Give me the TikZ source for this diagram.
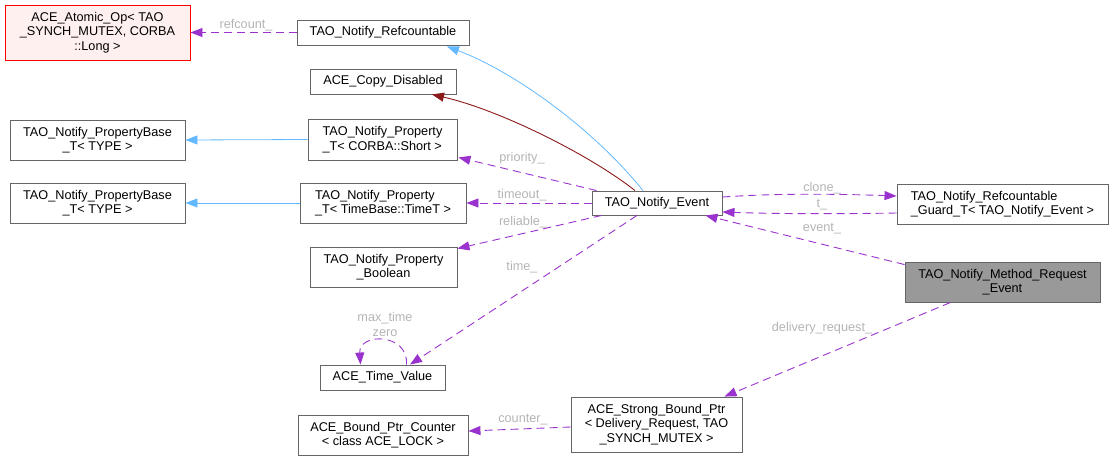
\documentclass[tikz,border=0pt]{standalone}
\usepackage{fontspec}
\setmainfont{Liberation Sans}
\usetikzlibrary{arrows.meta,calc}
\definecolor{edgepurple}{HTML}{9A32CD}
\definecolor{inhblue}{HTML}{63B8FF}
\definecolor{usered}{HTML}{8B1A1A}
\definecolor{boxgray}{HTML}{666666}
\definecolor{labgray}{HTML}{B4B4B4}
\definecolor{curfill}{HTML}{999999}
\definecolor{extfill}{HTML}{FFF0F0}
\definecolor{extred}{HTML}{FF0000}
\begin{document}
\begin{tikzpicture}[x=1pt,y=-1pt,
  box/.style={draw=boxgray,line width=0.9pt,fill=white,inner sep=0pt,align=center,
    font=\fontsize{12.7}{14.5}\selectfont},
  lab/.style={text=labgray,inner sep=0pt,font=\fontsize{12.7}{14}\selectfont},
  uses/.style={draw=edgepurple,line width=0.9pt,dash pattern=on 8pt off 5pt,
    -{Triangle[length=12pt,width=9pt]}},
  inh/.style={draw=inhblue,line width=0.8pt,-{Triangle[length=12pt,width=9pt]}},
  priv/.style={draw=usered,line width=0.9pt,-{Triangle[length=12pt,width=9pt]}}]
\useasboundingbox (0,0) rectangle (1113,461);

% nodes
\node[box,draw=extred,fill=extfill,minimum width=185pt,minimum height=55pt] (atomic) at (97.5,32.5)
  {ACE\_Atomic\_Op< TAO\\\_SYNCH\_MUTEX, CORBA\\::Long >};
\node[box,minimum width=172pt,minimum height=25pt] (refc) at (383,32.5) {TAO\_Notify\_Refcountable};
\node[box,minimum width=146pt,minimum height=25pt] (copy) at (383,81.5) {ACE\_Copy\_Disabled};
\node[box,minimum width=175pt,minimum height=40pt] (pbA) at (97.5,140) {TAO\_Notify\_PropertyBase\\\_T< TYPE >};
\node[box,align=left,minimum width=149pt,minimum height=41pt] (pshort) at (382.5,139.5) {TAO\_Notify\_Property\\\_T< CORBA::Short >};
\node[box,minimum width=175pt,minimum height=40pt] (pbB) at (97.5,203) {TAO\_Notify\_PropertyBase\\\_T< TYPE >};
\node[box,align=left,minimum width=166pt,minimum height=40pt] (ptime) at (383,203) {TAO\_Notify\_Property\\\_T< TimeBase::TimeT >};
\node[box,minimum width=147pt,minimum height=40pt] (pbool) at (383.5,267) {TAO\_Notify\_Property\\\_Boolean};
\node[box,minimum width=125pt,minimum height=25pt] (tv) at (382.5,377.5) {ACE\_Time\_Value};
\node[box,minimum width=170pt,minimum height=40pt] (bpc) at (383,435) {ACE\_Bound\_Ptr\_Counter\\< class ACE\_LOCK >};
\node[box,minimum width=171pt,minimum height=55pt] (sbp) at (656.5,424.5) {ACE\_Strong\_Bound\_Ptr\\< Delivery\_Request, TAO\\\_SYNCH\_MUTEX >};
\node[box,minimum width=130pt,minimum height=24pt] (ev) at (657,203) {TAO\_Notify\_Event};
\node[box,align=left,minimum width=211pt,minimum height=40pt] (guard) at (1002.5,204) {TAO\_Notify\_Refcountable\\\_Guard\_T< TAO\_Notify\_Event >};
\node[box,fill=curfill,minimum width=195pt,minimum height=40pt] (mre) at (1002.5,282) {TAO\_Notify\_Method\_Request\\\_Event};

% inheritance
\draw[inh] (pshort.west) -- (pbA.east);
\draw[inh] (ptime.west) -- (pbB.east);
\draw[inh] ($(ev.north)+(-14,0)$) .. controls (590,125) and (510,70) .. ($(refc.south)+(64,1)$);
\draw[priv] ($(ev.north)+(-22,0)$) .. controls (590,155) and (500,110) .. ($(copy.south)+(49,0)$);

% usage
\draw[uses] (refc.west) -- (atomic.east);
\node[lab] (lrefc) at (246,25) {refcount\_};
\draw[uses] ($(ev.north west)+(5,0)$) -- ($(pshort.south east)+(1,-3)$);
\node[lab] (lprio) at (522,158) {priority\_};
\draw[uses] (ev.west) -- (ptime.east);
\node[lab] (ltime) at (522,195) {timeout\_};
\draw[uses] ($(ev.south west)+(10,0)$) -- ($(pbool.north east)+(0,2)$);
\node[lab] (lrel) at (523,222) {reliable\_};
\draw[uses] ($(ev.south)+(-20,0)$) -- ($(tv.north)+(27.5,0)$);
\node[lab] (ltv) at (522,267) {time\_};
\draw[uses] ($(tv.north)+(24,0)$) .. controls ($(tv.north)+(26,-32)$) and ($(tv.north)+(-24,-32)$) .. ($(tv.north)+(-22,0)$);
\node[lab] (lmax) at (385,318) {max\_time};
\node[lab] (lzero) at (385,333) {zero};
\draw[uses] ($(ev.east)+(0,-6)$) .. controls (780,193) and (840,194) .. ($(guard.west)+(0,-8)$);
\node[lab] (lclone) at (822,188) {clone\_};
\draw[uses] ($(guard.west)+(0,9)$) .. controls (840,214) and (780,214) .. ($(ev.east)+(0,9)$);
\node[lab] (lt) at (822,205) {t\_};
\draw[uses] ($(mre.north west)+(0,3)$) -- ($(ev.south east)+(-17,0)$);
\node[lab] (levent) at (822,229) {event\_};
\draw[uses] ($(mre.south)+(-52,0)$) -- ($(sbp.north)+(68,0)$);
\node[lab] (ldel) at (822,328) {delivery\_request\_};
\draw[uses] ($(sbp.west)+(0,2.5)$) -- ($(bpc.east)+(0,-4)$);
\node[lab] (lcnt) at (523,420) {counter\_};
\end{tikzpicture}
\end{document}
